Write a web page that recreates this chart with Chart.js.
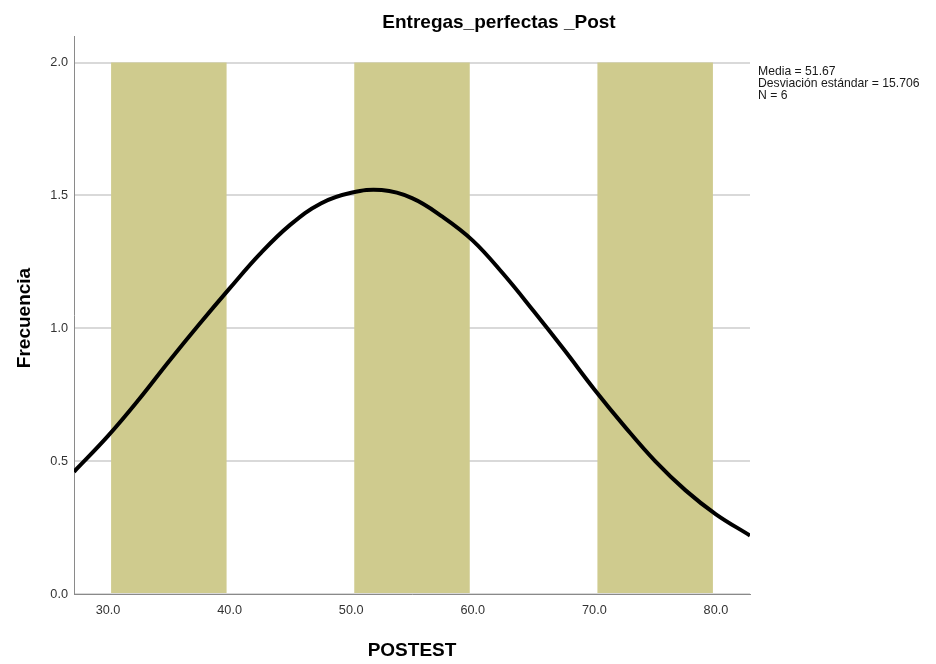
<!DOCTYPE html>
<html>
<head>
<meta charset="utf-8">
<script src="https://cdn.jsdelivr.net/npm/chart.js@4.4.0/dist/chart.umd.min.js"></script>
<style>
  html, body { margin: 0; padding: 0; background: #ffffff; }
  #wrap { width: 936px; height: 664px; }
</style>
</head>
<body>
<div id="wrap"><canvas id="c" width="936" height="664"></canvas></div>
<script>
// Texts
const chartTitle = 'Entregas_perfectas _Post';
const xAxisTitle = 'POSTEST';
const yAxisTitle = 'Frecuencia';
const statsLines = ['Media = 51.67', 'Desviación estándar = 15.706', 'N = 6'];

// Histogram bins (centre of each 10-wide bin) and frequencies
const binCenters = [35, 55, 75];
const binCounts = [2, 2, 2];

// Fitted normal curve, sampled points
const curveX = [27.2, 30, 32.5, 35, 37.5, 40, 42.5, 45, 47.5, 50, 52.5, 55, 57.5, 60, 62.5, 65, 67.5, 70, 72.5, 75, 77.5, 80, 82.8];
const curveY = [0.46, 0.595, 0.73, 0.875, 1.015, 1.15, 1.28, 1.39, 1.47, 1.51, 1.52, 1.49, 1.42, 1.33, 1.205, 1.065, 0.92, 0.77, 0.63, 0.50, 0.39, 0.30, 0.22];

// Axis ticks
const xTickValues = [30, 40, 50, 60, 70, 80];
const yTickValues = [0, 0.5, 1.0, 1.5, 2.0];

const FONT = "'Liberation Sans', Arial, Helvetica, sans-serif";

const textPlugin = {
  id: 'labels',
  afterDraw(chart) {
    const ctx = chart.ctx;
    const area = chart.chartArea;
    ctx.save();
    ctx.fillStyle = '#000000';
    ctx.textAlign = 'center';
    ctx.textBaseline = 'middle';
    ctx.font = 'bold 19px ' + FONT;
    ctx.fillText(chartTitle, 499, 23);
    ctx.fillText(xAxisTitle, (area.left + area.right) / 2, 651);
    ctx.save();
    ctx.translate(25, 318);
    ctx.rotate(-Math.PI / 2);
    ctx.fillText(yAxisTitle, 0, 0);
    ctx.restore();
    ctx.textAlign = 'left';
    ctx.font = '12.2px ' + FONT;
    ctx.fillStyle = '#1a1a1a';
    statsLines.forEach((s, i) => ctx.fillText(s, area.right + 8, 72 + i * 12));
    ctx.restore();
  }
};

new Chart(document.getElementById('c'), {
  type: 'bar',
  data: {
    datasets: [
      {
        type: 'line',
        data: curveX.map((x, i) => ({ x: x, y: curveY[i] })),
        borderColor: '#000000',
        borderWidth: 4,
        pointRadius: 0,
        fill: false,
        tension: 0.4,
        order: 0
      },
      {
        type: 'bar',
        data: binCenters.map((x, i) => ({ x: x, y: binCounts[i] })),
        backgroundColor: '#cfcb8e',
        borderWidth: 0,
        categoryPercentage: 1.0,
        barPercentage: 0.95,
        order: 1
      }
    ]
  },
  options: {
    responsive: false,
    animation: false,
    layout: { padding: { top: 36, right: 186, left: 0, bottom: 0 } },
    plugins: { legend: { display: false }, tooltip: { enabled: false } },
    scales: {
      x: {
        type: 'linear',
        offset: false,
        min: 27.2,
        max: 82.8,
        afterBuildTicks: (s) => { s.ticks = xTickValues.map(v => ({ value: v })); },
        afterFit: (s) => { s.height = 70; },
        grid: { display: false, drawTicks: false, offset: false },
        border: { display: true, color: '#8a8a8a', width: 1 },
        ticks: {
          padding: 9,
          maxRotation: 0,
          autoSkip: false,
          color: '#333333',
          font: { family: FONT, size: 12.7 },
          callback: (v) => Number(v).toFixed(1)
        }
      },
      y: {
        type: 'linear',
        min: 0,
        max: 2.1,
        afterBuildTicks: (s) => { s.ticks = yTickValues.map(v => ({ value: v })); },
        afterFit: (s) => { s.width = 74; },
        grid: { display: true, drawTicks: false, color: '#d9d9d9', lineWidth: 2 },
        border: { display: true, color: '#8a8a8a', width: 1 },
        ticks: {
          padding: 6,
          color: '#333333',
          font: { family: FONT, size: 12.7 },
          callback: (v) => Number(v).toFixed(1)
        }
      }
    }
  },
  plugins: [textPlugin]
});
</script>
</body>
</html>
